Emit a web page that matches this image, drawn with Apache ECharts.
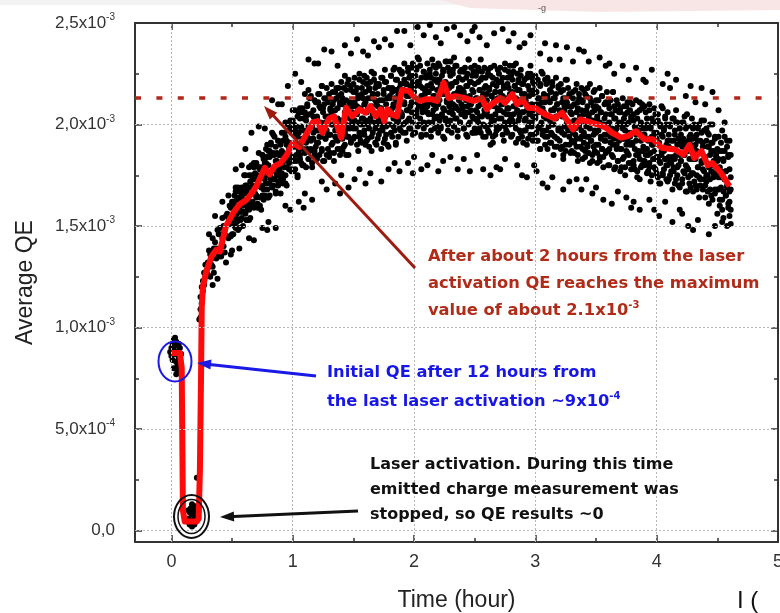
<!DOCTYPE html>
<html><head><meta charset="utf-8">
<script src="https://cdn.jsdelivr.net/npm/echarts@6/dist/echarts.min.js"></script>
<style>html,body{margin:0;padding:0;background:#fff}#c{width:780px;height:613px}</style>
</head><body><div id="c"></div>
<script>
// Time in hours; Average QE expressed in units of 1e-3
const xTickValues = [0, 1, 2, 3, 4, 5];
const xTickLabels = ['0', '1', '2', '3', '4', '5'];
const xMinorTicks = [0.5, 1.5, 2.5, 3.5, 4.5];
const yTickValues = [0, 0.5, 1, 1.5, 2, 2.5];
const yTickMantissa = ['0,0', '5,0x10', '1,0x10', '1,5x10', '2,0x10', '2,5x10'];
const yTickExponent = ['', '-4', '-3', '-3', '-3', '-3'];
const yMinorTicks = [0.25, 0.75, 1.25, 1.75, 2.25];
const maxQELevel = 2.132;

// red averaged curve: time (h) / QE (1e-3)
const avgTime = [0.00,0.07,0.085,0.095,0.11,0.21,0.225,0.235,0.245,0.25,0.26,0.285,0.33,0.37,0.40,0.45,0.51,0.56,0.62,0.66,0.70,0.77,0.81,0.85,0.90,0.95,1.00,1.055,1.11,1.165,1.205,1.246,1.30,1.34,1.40,1.44,1.49,1.55,1.60,1.64,1.685,1.725,1.755,1.78,1.82,1.86,1.90,1.96,2.01,2.05,2.095,2.15,2.19,2.245,2.287,2.34,2.42,2.49,2.56,2.60,2.64,2.71,2.75,2.81,2.85,2.89,2.94,3.00,3.08,3.16,3.22,3.31,3.37,3.46,3.57,3.63,3.71,3.76,3.83,3.90,3.97,4.04,4.15,4.22,4.27,4.31,4.37,4.42,4.46,4.53,4.60];
const avgQE = [0.875,0.875,0.80,0.10,0.045,0.045,0.06,0.30,0.80,1.10,1.20,1.27,1.35,1.383,1.375,1.50,1.565,1.606,1.63,1.66,1.696,1.787,1.754,1.795,1.81,1.85,1.91,1.89,1.95,2.01,2.017,1.96,2.03,2.04,1.935,2.083,2.04,2.075,2.058,2.09,2.04,2.075,2.017,2.075,2.05,2.04,2.17,2.165,2.13,2.116,2.124,2.124,2.116,2.206,2.13,2.14,2.13,2.116,2.13,2.075,2.10,2.13,2.107,2.15,2.10,2.124,2.083,2.08,2.05,2.03,2.058,1.976,2.025,2.01,1.99,1.96,1.935,1.943,1.967,1.927,1.927,1.886,1.877,1.852,1.90,1.836,1.869,1.80,1.81,1.762,1.696];

// measured points, flat pairs: time (0.01 h), QE (1e-5)
const ptsInitial = [-1,88,0,90,0,86,1,92,1,84,2,89,2,80,3,91,3,87,4,83,4,93,5,88,5,79,6,85,7,90,7,82,8,87,6,92,2,94,4,77,3,95,5,81];
const ptsActivation = [14,6,15,9,15,3,16,11,16,5,17,8,17,2,18,10,18,4,19,7,20,12,20,5,21,9,19,3,21,26,14,10,17,13];
const ptsRecovery = [23,104,24,109,24,115,25,112,25,120,26,118,26,123,27,121,27,127,28,125,28,131,29,128,24,105,
30,132,30,126,31,138,31,130,32,136,32,125,33,134,33,131,34,144,34,130,35,139,35,127,36,142,36,137,37,139,37,134,38,148,38,138,39,146,39,135,31,146,34,121,36,155,38,124,
40,138,40,149,41,135,41,146,42,144,42,154,43,140,43,150,44,137,44,148,45,145,45,155,46,145,46,156,47,144,47,154,48,151,48,160,49,145,49,159,42,162,45,132,47,165,49,136,
50,162,50,154,51,146,51,160,52,165,52,152,53,169,53,149,54,156,54,163,55,169,55,153,56,149,56,161,57,164,57,157,58,169,58,154,59,163,59,160,50,138,53,178,56,139,58,180,
60,166,60,157,61,175,61,162,62,170,62,153,63,166,63,161,64,179,64,158,65,172,65,154,66,175,66,166,67,170,67,162,68,181,68,166,69,176,69,160,61,188,64,144,66,196,68,143,
70,165,70,180,71,159,71,175,72,170,72,186,73,164,73,178,74,158,74,175,75,170,75,185,76,168,76,183,77,165,77,181,78,175,78,188,79,164,79,184,72,199,75,149,77,198,79,148,
80,187,80,176,81,165,81,184,82,190,82,173,83,196,83,169,84,177,84,186,85,194,85,173,86,166,86,182,87,186,87,177,88,192,88,172,89,185,89,181,80,152,83,212,86,149,88,210,
90,185,90,174,91,196,91,180,92,192,92,171,93,185,93,179,94,201,94,175,95,192,95,170,96,197,96,186,97,191,97,181,98,202,98,185,99,198,99,178,91,210,94,160,96,219,98,158];
const ptsPlateau = [100,184,100,202,101,177,101,196,102,189,102,207,103,182,103,199,104,174,104,194,105,188,105,206,106,185,106,203,107,181,107,199,108,193,108,208,109,180,109,203,102,225,105,162,107,221,109,159,
110,206,110,193,111,179,111,202,112,210,112,188,113,217,113,183,114,193,114,205,115,214,115,188,116,179,116,199,117,204,117,193,118,212,118,187,119,202,119,197,110,166,113,232,116,163,118,230,
120,204,120,191,121,215,121,197,122,209,122,185,123,201,123,194,124,219,124,188,125,208,125,182,126,213,126,200,127,204,127,193,128,218,128,197,129,211,129,188,121,230,124,172,126,237,128,168,
130,195,130,215,131,186,131,207,132,200,132,220,133,191,133,210,134,182,134,204,135,197,135,216,136,193,136,213,137,188,137,208,138,201,138,218,139,185,139,211,132,236,135,171,137,229,139,166,
140,215,140,202,141,187,141,210,142,218,142,196,143,224,143,190,144,200,144,212,145,220,145,194,146,185,146,205,147,209,147,198,148,217,148,192,149,206,149,201,140,175,143,239,146,169,148,235,
159,210,159,197,158,221,158,203,157,215,157,191,156,207,156,200,155,225,155,194,154,213,154,187,153,218,153,205,152,209,152,198,151,223,151,202,150,216,150,193,158,236,155,178,153,242,151,173,
169,200,169,220,168,191,168,212,167,205,167,225,166,196,166,215,165,187,165,209,164,202,164,221,163,198,163,218,162,193,162,213,161,206,161,223,160,190,160,216,167,241,164,176,162,234,160,171,
179,218,179,205,178,190,178,213,177,221,177,199,176,227,176,193,175,203,175,215,174,223,174,197,173,188,173,208,172,212,172,201,171,220,171,195,170,209,170,204,179,178,176,242,173,172,171,238,
180,213,180,200,181,224,181,206,182,218,182,194,183,210,183,203,184,228,184,197,185,217,185,191,186,222,186,209,187,213,187,202,188,227,188,206,189,220,189,197,181,239,184,181,186,246,188,177,
190,205,190,225,191,196,191,217,192,210,192,230,193,201,193,220,194,192,194,214,195,207,195,226,196,203,196,223,197,198,197,218,198,211,198,228,199,195,199,221,192,246,195,181,197,239,199,176,
200,224,200,211,201,196,201,219,202,227,202,205,203,233,203,199,204,209,204,221,205,229,205,203,206,194,206,214,207,218,207,207,208,226,208,201,209,215,209,210,200,184,203,248,206,178,208,244,
219,217,219,204,218,228,218,210,217,222,217,198,216,214,216,207,215,232,215,201,214,220,214,194,213,225,213,212,212,216,212,205,211,230,211,209,210,223,210,200,218,243,215,185,213,249,211,180,
229,206,229,226,228,197,228,218,227,211,227,231,226,202,226,221,225,193,225,215,224,208,224,227,223,204,223,224,222,199,222,219,221,212,221,229,220,196,220,222,227,247,224,182,222,240,220,177,
230,224,230,211,231,196,231,219,232,227,232,205,233,233,233,199,234,209,234,221,235,229,235,203,236,194,236,214,237,218,237,207,238,226,238,201,239,215,239,210,230,184,233,248,236,178,238,244,
240,209,240,222,241,198,241,216,242,204,242,228,243,212,243,219,244,194,244,225,245,206,245,232,246,201,246,214,247,210,247,221,248,196,248,217,249,203,249,226,241,183,244,241,246,177,248,246,
259,219,259,199,258,228,258,207,257,214,257,194,256,223,256,204,255,232,255,210,254,217,254,198,253,221,253,201,252,226,252,206,251,213,251,196,250,229,250,203,257,178,254,243,252,185,250,248,
260,199,260,212,261,227,261,204,262,196,262,218,263,190,263,224,264,214,264,202,265,194,265,220,266,229,266,209,267,205,267,216,268,197,268,222,269,208,269,213,260,239,263,175,266,245,268,179,
279,215,279,202,278,226,278,208,277,220,277,196,276,212,276,205,275,230,275,199,274,218,274,192,273,223,273,210,272,214,272,203,271,228,271,207,270,221,270,198,278,241,275,183,273,247,271,178,
280,204,280,224,281,195,281,216,282,209,282,229,283,200,283,219,284,191,284,213,285,206,285,225,286,202,286,222,287,197,287,217,288,210,288,227,289,194,289,220,282,245,285,180,287,238,289,175,
299,220,299,207,298,192,298,215,297,223,297,201,296,229,296,195,295,205,295,217,294,225,294,199,293,190,293,210,292,214,292,203,291,222,291,197,290,211,290,206,299,180,296,244,293,174,291,240];
const ptsDecline = [300,203,300,216,301,192,301,210,302,198,302,222,303,206,303,213,304,188,304,219,305,200,305,226,306,195,306,208,307,204,307,215,308,190,308,211,309,197,309,220,301,177,304,235,306,171,308,240,
319,198,319,218,318,189,318,210,317,203,317,223,316,194,316,213,315,185,315,207,314,200,314,219,313,196,313,216,312,191,312,211,311,204,311,221,310,188,310,214,317,239,314,174,312,232,310,169,
320,192,320,205,321,220,321,197,322,189,322,211,323,183,323,217,324,207,324,195,325,187,325,213,326,222,326,202,327,198,327,209,328,190,328,215,329,201,329,206,320,232,323,168,326,238,328,172,
330,205,330,192,331,216,331,198,332,210,332,186,333,202,333,195,334,220,334,189,335,208,335,182,336,213,336,200,337,204,337,193,338,218,338,197,339,211,339,188,331,231,334,173,336,237,338,168,
349,207,349,187,348,216,348,195,347,202,347,182,346,211,346,192,345,220,345,198,344,205,344,186,343,209,343,189,342,214,342,194,341,201,341,184,340,217,340,191,347,166,344,231,342,173,340,236,
350,209,350,196,351,181,351,204,352,212,352,190,353,218,353,184,354,194,354,206,355,214,355,188,356,179,356,199,357,203,357,192,358,211,358,186,359,200,359,195,350,169,353,233,356,163,358,229,
369,193,369,206,368,182,368,200,367,188,367,212,366,196,366,203,365,178,365,209,364,190,364,216,363,185,363,198,362,194,362,205,361,180,361,201,360,187,360,210,368,167,365,225,363,161,361,230,
370,188,370,208,371,179,371,200,372,193,372,213,373,184,373,203,374,175,374,197,375,190,375,209,376,186,376,206,377,181,377,201,378,194,378,211,379,178,379,204,372,229,375,164,377,222,379,159,
389,182,389,195,388,210,388,187,387,179,387,201,386,173,386,207,385,197,385,185,384,177,384,203,383,212,383,192,382,188,382,199,381,180,381,205,380,191,380,196,389,222,386,158,383,228,381,162,
390,195,390,182,391,206,391,188,392,200,392,176,393,192,393,185,394,210,394,179,395,198,395,172,396,203,396,190,397,194,397,183,398,208,398,187,399,201,399,178,391,221,394,163,396,227,398,158,
400,196,400,176,401,205,401,184,402,191,402,171,403,200,403,181,404,209,404,187,405,194,405,175,406,198,406,178,407,203,407,183,408,190,408,173,409,206,409,180,402,155,405,220,407,162,409,225,
419,198,419,185,418,170,418,193,417,201,417,179,416,207,416,173,415,183,415,195,414,203,414,177,413,168,413,188,412,192,412,181,411,200,411,175,410,189,410,184,419,158,416,222,413,152,411,218,
420,182,420,195,421,171,421,189,422,177,422,201,423,185,423,192,424,167,424,198,425,179,425,205,426,174,426,187,427,183,427,194,428,169,428,190,429,176,429,199,421,156,424,214,426,150,428,219,
439,177,439,197,438,168,438,189,437,182,437,202,436,173,436,192,435,164,435,186,434,179,434,198,433,175,433,195,432,170,432,190,431,183,431,200,430,167,430,193,437,218,434,153,432,211,430,148,
440,170,440,183,441,198,441,175,442,167,442,189,443,161,443,195,444,185,444,173,445,165,445,191,446,200,446,180,447,176,447,187,448,168,448,193,449,179,449,184,440,210,443,146,446,216,448,150,
450,182,450,168,451,194,451,174,452,187,452,160,453,177,453,169,454,197,454,163,455,183,455,154,456,187,456,173,457,177,457,165,458,192,458,169,459,184,459,159,451,207,454,152,456,201,458,150,
460,178,460,162,460,155,461,185,461,168,461,158,460,192,461,174,460,167,461,151];
// second batch of points inside the dense core band
const ptsCore = [50,159,50,146,51,152,51,162,52,157,52,150,53,167,53,155,54,152,54,160,55,164,55,148,56,158,56,167,57,153,57,162,58,165,58,157,59,150,59,168,
60,161,60,175,61,170,61,156,62,153,62,168,63,166,63,159,64,175,64,153,65,162,65,169,66,180,66,160,67,167,67,173,68,159,68,179,69,173,69,166,
70,164,70,181,71,174,71,161,72,170,72,179,73,160,73,174,74,179,74,169,75,165,75,185,76,176,76,163,77,184,77,173,78,171,78,181,79,190,79,168,
80,180,80,164,81,171,81,187,82,191,82,174,83,177,83,185,84,170,84,195,85,185,85,177,86,167,86,189,87,182,87,175,88,192,88,170,89,178,89,185,
99,196,99,177,98,184,98,198,97,188,97,178,96,200,96,183,95,179,95,190,94,194,94,171,93,182,93,196,92,173,92,186,91,187,91,176,90,166,90,190,
100,189,100,207,101,200,101,182,102,178,102,197,103,194,103,185,104,204,104,175,105,187,105,196,106,208,106,183,107,191,107,198,108,180,108,206,109,197,109,188,
119,189,119,211,118,202,118,185,117,196,117,207,116,181,116,200,115,205,115,192,114,187,114,213,113,199,113,183,112,209,112,194,111,191,111,204,110,215,110,186,
120,203,120,183,121,191,121,211,122,215,122,194,123,198,123,208,124,187,124,219,125,206,125,196,126,182,126,210,127,201,127,193,128,213,128,185,129,195,129,204,
139,210,139,188,138,197,138,214,137,203,137,192,136,218,136,199,135,194,135,207,134,212,134,186,133,200,133,216,132,190,132,205,131,208,131,195,130,184,130,213,
140,201,140,221,141,213,141,193,142,189,142,210,143,206,143,196,144,217,144,185,145,198,145,208,146,222,146,194,147,203,147,211,148,191,148,219,149,209,149,200,
150,198,150,220,151,211,151,194,152,205,152,216,153,190,153,209,154,214,154,201,155,196,155,222,156,208,156,192,157,218,157,203,158,200,158,213,159,224,159,195,
169,210,169,190,168,198,168,218,167,222,167,201,166,205,166,215,165,194,165,226,164,213,164,203,163,189,163,217,162,208,162,200,161,220,161,192,160,202,160,211,
170,215,170,193,171,202,171,219,172,208,172,197,173,223,173,204,174,199,174,212,175,217,175,191,176,205,176,221,177,195,177,210,178,213,178,200,179,189,179,218,
189,206,189,226,188,218,188,198,187,194,187,215,186,211,186,201,185,222,185,190,184,203,184,213,183,227,183,199,182,208,182,216,181,196,181,224,180,214,180,205,
190,204,190,226,191,217,191,200,192,211,192,222,193,196,193,215,194,220,194,207,195,202,195,228,196,214,196,198,197,224,197,209,198,206,198,219,199,230,199,201,
200,216,200,196,201,204,201,224,202,228,202,207,203,211,203,221,204,200,204,232,205,219,205,209,206,195,206,223,207,214,207,206,208,226,208,198,209,208,209,217,
219,221,219,199,218,208,218,225,217,214,217,203,216,229,216,210,215,205,215,218,214,223,214,197,213,211,213,227,212,201,212,216,211,219,211,206,210,195,210,224,
220,210,220,230,221,222,221,202,222,198,222,219,223,215,223,205,224,226,224,194,225,207,225,217,226,231,226,203,227,212,227,220,228,200,228,228,229,218,229,209,
239,205,239,227,238,218,238,201,237,212,237,223,236,197,236,216,235,221,235,208,234,203,234,229,233,215,233,199,232,225,232,210,231,207,231,220,230,231,230,202,
249,216,249,196,248,204,248,224,247,228,247,207,246,211,246,221,245,200,245,232,244,219,244,209,243,195,243,223,242,214,242,206,241,226,241,198,240,208,240,217,
250,220,250,198,251,207,251,224,252,213,252,202,253,228,253,209,254,204,254,217,255,222,255,196,256,210,256,226,257,200,257,215,258,218,258,205,259,194,259,223,
269,207,269,227,268,219,268,199,267,195,267,216,266,212,266,202,265,223,265,191,264,204,264,214,263,228,263,200,262,209,262,217,261,197,261,225,260,215,260,206,
270,203,270,225,271,216,271,199,272,210,272,221,273,195,273,214,274,219,274,206,275,201,275,227,276,213,276,197,277,223,277,208,278,205,278,218,279,229,279,200,
280,214,280,194,281,202,281,222,282,226,282,205,283,209,283,219,284,198,284,230,285,217,285,207,286,193,286,221,287,212,287,204,288,224,288,196,289,206,289,215,
299,217,299,195,298,204,298,221,297,210,297,199,296,225,296,206,295,201,295,214,294,219,294,193,293,207,293,223,292,197,292,212,291,215,291,202,290,191,290,220,
300,204,300,224,301,216,301,196,302,192,302,213,303,209,303,199,304,220,304,188,305,201,305,211,306,225,306,197,307,206,307,214,308,194,308,222,309,212,309,203,
319,197,319,219,318,210,318,193,317,204,317,215,316,189,316,208,315,213,315,200,314,195,314,221,313,207,313,191,312,217,312,202,311,199,311,212,310,223,310,194,
329,206,329,186,328,194,328,214,327,218,327,197,326,201,326,211,325,190,325,222,324,209,324,199,323,185,323,213,322,204,322,196,321,216,321,188,320,198,320,207,
330,209,330,187,331,196,331,213,332,202,332,191,333,217,333,198,334,193,334,206,335,211,335,185,336,199,336,215,337,189,337,204,338,207,338,194,339,183,339,212,
349,197,349,217,348,209,348,189,347,185,347,206,346,202,346,192,345,213,345,181,344,194,344,204,343,218,343,190,342,199,342,207,341,187,341,215,340,205,340,196,
350,190,350,212,351,203,351,186,352,197,352,208,353,182,353,201,354,206,354,193,355,188,355,214,356,200,356,184,357,210,357,195,358,192,358,205,359,216,359,187,
360,200,360,180,361,188,361,208,362,212,362,191,363,195,363,205,364,184,364,216,365,203,365,193,366,179,366,207,367,198,367,190,368,210,368,182,369,192,369,201,
379,203,379,181,378,190,378,207,377,196,377,185,376,211,376,192,375,187,375,200,374,205,374,179,373,193,373,209,372,183,372,198,371,201,371,188,370,177,370,206,
380,190,380,210,381,202,381,182,382,178,382,199,383,195,383,185,384,206,384,174,385,187,385,197,386,211,386,183,387,192,387,200,388,180,388,208,389,198,389,189,
399,183,399,205,398,196,398,179,397,190,397,201,396,175,396,194,395,199,395,186,394,181,394,207,393,193,393,177,392,203,392,188,391,185,391,198,390,209,390,180,
409,192,409,172,408,180,408,200,407,204,407,183,406,187,406,197,405,176,405,208,404,195,404,185,403,171,403,199,402,190,402,182,401,202,401,174,400,184,400,193,
410,195,410,173,411,182,411,199,412,188,412,177,413,203,413,184,414,179,414,192,415,197,415,171,416,185,416,201,417,175,417,190,418,193,418,180,419,169,419,198,
429,183,429,203,428,195,428,175,427,171,427,192,426,188,426,178,425,199,425,167,424,180,424,190,423,204,423,176,422,185,422,193,421,173,421,201,420,191,420,182,
430,176,430,198,431,189,431,172,432,183,432,194,433,168,433,187,434,192,434,179,435,174,435,200,436,186,436,170,437,196,437,181,438,178,438,191,439,202,439,173,
440,184,440,164,441,172,441,192,442,196,442,175,443,179,443,189,444,168,444,200,445,187,445,177,446,163,446,191,447,182,447,174,448,194,448,166,449,176,449,185,
459,185,459,161,458,170,458,189,457,177,457,165,456,194,456,173,455,167,455,182,454,187,454,158,453,174,453,191,452,163,452,179,451,183,451,168,450,156,450,188];

function pairs(flat) {
  const out = [];
  for (let i = 0; i < flat.length; i += 2) out.push([flat[i] / 100, flat[i + 1] / 100]);
  return out;
}
const scatterData = [].concat(pairs(ptsInitial), pairs(ptsActivation), pairs(ptsRecovery), pairs(ptsPlateau), pairs(ptsDecline), pairs(ptsCore));
const avgData = avgTime.map((t, i) => [t, avgQE[i]]);

const FONT = 'Liberation Sans';
const AFONT = 'DejaVu Sans';
const axisColor = '#333';
const X_MIN = -0.3, X_MAX = 5, Y_MIN = -0.056, Y_MAX = 2.5;

function xAx(pos, ticks, len, showLine, label) {
  return {
    type: 'value', position: pos, min: X_MIN, max: X_MAX,
    axisLine: { show: showLine, onZero: false, lineStyle: { color: axisColor, width: 2 } },
    axisTick: { show: true, inside: true, length: len, customValues: ticks, lineStyle: { color: axisColor, width: 1.5 } },
    axisLabel: label ? {
      show: true, customValues: xTickValues, margin: 11, fontSize: 18, color: '#333', fontFamily: FONT,
      formatter: v => xTickLabels[xTickValues.findIndex(x => Math.abs(x - v) < 1e-9)]
    } : { show: false },
    splitLine: { show: false }
  };
}
function yAx(pos, ticks, len, showLine, label) {
  return {
    type: 'value', position: pos, min: Y_MIN, max: Y_MAX,
    axisLine: { show: showLine, onZero: false, lineStyle: { color: axisColor, width: 2 } },
    axisTick: { show: true, inside: true, length: len, customValues: ticks, lineStyle: { color: axisColor, width: 1.5 } },
    axisLabel: label ? {
      show: true, customValues: yTickValues, margin: 20, fontSize: 17, color: '#333', fontFamily: FONT,
      formatter: v => {
        const i = yTickValues.findIndex(x => Math.abs(x - v) < 1e-9);
        return yTickExponent[i] ? yTickMantissa[i] + '{s|' + yTickExponent[i] + '}' : yTickMantissa[i];
      },
      rich: { s: { fontSize: 10, color: '#333', fontFamily: FONT, padding: [0, 0, 11, 0] } }
    } : { show: false },
    splitLine: { show: false }
  };
}

const xa = [
  xAx('bottom', xTickValues, 7, true, true),
  xAx('bottom', xMinorTicks, 4, false, false),
  xAx('top', xTickValues, 7, true, false),
  xAx('top', xMinorTicks, 4, false, false)
];
Object.assign(xa[0], { name: 'Time (hour)', nameLocation: 'middle', nameGap: 47,
  nameTextStyle: { fontSize: 23, color: '#222', fontFamily: FONT } });
const ya = [
  yAx('left', yTickValues, 7, true, true),
  yAx('left', yMinorTicks, 4, false, false),
  yAx('right', yTickValues, 7, true, false),
  yAx('right', yMinorTicks, 4, false, false)
];
Object.assign(ya[0], { name: 'Average QE', nameLocation: 'middle', nameRotate: 90, nameGap: 98,
  nameTextStyle: { fontSize: 23, color: '#222', fontFamily: FONT } });

const gridLines = xTickValues.slice(0, 5).map(v => ({ xAxis: v })).concat(yTickValues.slice(0, 5).map(v => ({ yAxis: v })));

const redTxt = '#b02c18', blueTxt = '#1616e8';
const chart = echarts.init(document.getElementById('c'), null, { renderer: 'canvas' });
chart.setOption({
  animation: false,
  backgroundColor: '#fff',
  grid: { left: 135, right: 2, top: 23, bottom: 71, containLabel: false, outerBoundsMode: 'none' },
  xAxis: xa,
  yAxis: ya,
  series: [
    { type: 'line', data: [], z: 1, silent: true,
      markLine: { silent: true, symbol: 'none', label: { show: false },
        lineStyle: { color: '#b8b8b8', type: [2, 2], width: 1 }, data: gridLines } },
    { type: 'scatter', data: scatterData, z: 2, symbol: 'circle', symbolSize: 6,
      itemStyle: { color: '#000', opacity: 1 }, silent: true },
    { type: 'line', data: avgData, z: 3, showSymbol: false, symbol: 'none', silent: true,
      lineStyle: { color: '#ff0a0a', width: 6, join: 'round' },
      markLine: { silent: true, symbol: 'none', label: { show: false },
        lineStyle: { color: '#b3261a', type: [6, 15.4], width: 3.5 }, data: [{ yAxis: maxQELevel }] } }
  ],
  graphic: [
    { type: 'rect', shape: { x: 0, y: 0, width: 780, height: 5 }, style: { fill: '#f3f3f3' }, z: -1 },
    { type: 'polygon', shape: { points: [[440, 0], [780, 0], [780, 10], [600, 12], [470, 8]] }, style: { fill: '#f8e6e6' }, z: -1 },
    { type: 'text', x: 538, y: 4, style: { text: '-g', fontSize: 9, fill: '#555', fontFamily: FONT } },
    // red annotation
    { type: 'line', shape: { x1: 415, y1: 268, x2: 270, y2: 112 }, style: { stroke: '#9e1b0f', lineWidth: 3 }, z: 10 },
    { type: 'polygon', shape: { points: [[264, 106], [277.2, 112.8], [269.8, 119.6]] }, style: { fill: '#9e1b0f' }, z: 10 },
    { type: 'text', x: 428, y: 243, z: 10, style: {
      text: 'After about 2 hours from the laser\nactivation QE reaches the maximum\nvalue of about 2.1x10{s|-3}',
      fill: redTxt, fontSize: 16.3, fontWeight: 'bold', fontFamily: AFONT, lineHeight: 27,
      rich: { s: { fontSize: 10, fontWeight: 'bold', fill: redTxt, fontFamily: AFONT, padding: [0, 0, 11, 0] } } } },
    // blue annotation
    { type: 'ellipse', shape: { cx: 175, cy: 361.5, rx: 16.5, ry: 20 }, style: { fill: 'none', stroke: '#1a1ae6', lineWidth: 2 }, z: 10 },
    { type: 'line', shape: { x1: 316, y1: 376, x2: 205, y2: 364 }, style: { stroke: '#1a1ae6', lineWidth: 3 }, z: 10 },
    { type: 'polygon', shape: { points: [[197, 363], [211.5, 359.6], [210.4, 369.5]] }, style: { fill: '#1a1ae6' }, z: 10 },
    { type: 'text', x: 327, y: 358, z: 10, style: {
      text: 'Initial QE after 12 hours from\nthe last laser activation ~9x10{s|-4}',
      fill: blueTxt, fontSize: 16.3, fontWeight: 'bold', fontFamily: AFONT, lineHeight: 29,
      rich: { s: { fontSize: 10, fontWeight: 'bold', fill: blueTxt, fontFamily: AFONT, padding: [0, 0, 11, 0] } } } },
    // black annotation
    { type: 'ellipse', shape: { cx: 191.5, cy: 516.5, rx: 17.5, ry: 21.5 }, style: { fill: 'none', stroke: '#111', lineWidth: 2 }, z: 10 },
    { type: 'ellipse', shape: { cx: 191.5, cy: 516.5, rx: 13.5, ry: 17 }, style: { fill: 'none', stroke: '#111', lineWidth: 1.5 }, z: 10 },
    { type: 'line', shape: { x1: 358, y1: 511, x2: 228, y2: 516.7 }, style: { stroke: '#111', lineWidth: 3 }, z: 10 },
    { type: 'polygon', shape: { points: [[220, 517], [233.8, 511.4], [234.2, 521.4]] }, style: { fill: '#111' }, z: 10 },
    { type: 'text', x: 370, y: 452.5, z: 10, style: {
      text: 'Laser activation. During this time\nemitted charge measurement was\nstopped, so QE results ~0',
      fill: '#111', fontSize: 16, fontWeight: 'bold', fontFamily: AFONT, lineHeight: 25 } },
    { type: 'text', x: 737, y: 589, style: { text: 'I (', fontSize: 24, fill: '#111', fontFamily: FONT } }
  ]
});
</script></body></html>
